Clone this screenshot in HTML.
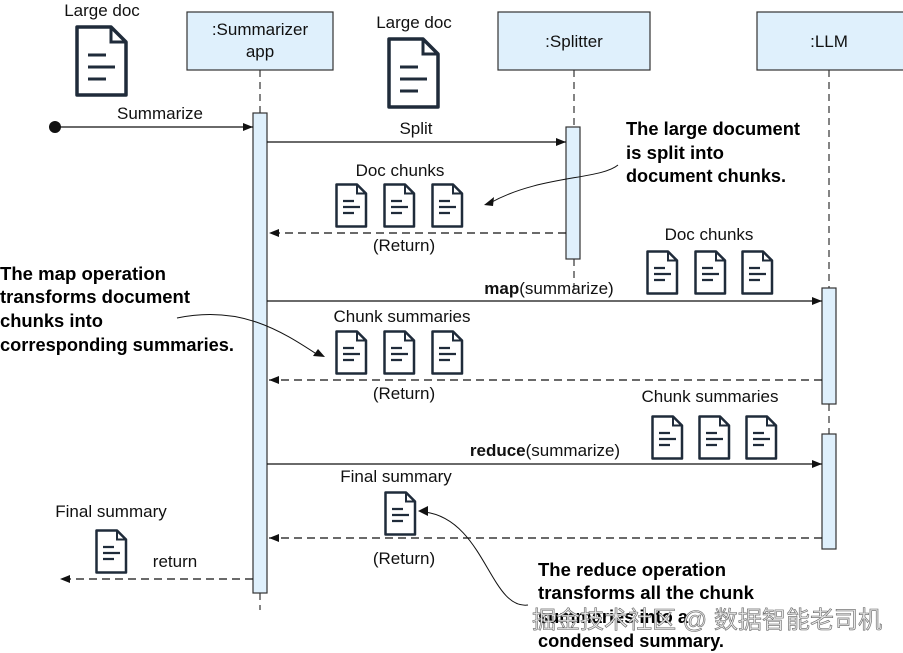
<!DOCTYPE html>
<html><head><style>
body{margin:0;background:#fff}
svg{display:block}
text{font-family:"Liberation Sans",sans-serif;font-size:17px;fill:#111}
.b{font-weight:bold;font-size:18px;fill:#000}
</style></head><body>
<svg width="903" height="653" viewBox="0 0 903 653" xmlns="http://www.w3.org/2000/svg">
<defs>
<marker id="a" markerWidth="10" markerHeight="8" refX="10" refY="4" orient="auto" markerUnits="userSpaceOnUse"><path d="M0,0 L10,4 L0,8 z" fill="#111"/></marker>
<g id="d"><path d="M1.5,1.5 H22 L31,10.5 V43.5 H1.5 Z" fill="#fff" stroke="#1f2b3a" stroke-width="2.5" stroke-linejoin="round"/><path d="M22,1.5 V10.5 H31" fill="none" stroke="#1f2b3a" stroke-width="2"/><path d="M8,18 H19 M8,24 H25 M8,30 H19" stroke="#1f2b3a" stroke-width="2.2"/></g>
<g id="D"><path d="M2,2 H36 L51,17 V70 H2 Z" fill="#fff" stroke="#1f2b3a" stroke-width="3.5" stroke-linejoin="round"/><path d="M36,2 V17 H51" fill="none" stroke="#1f2b3a" stroke-width="3"/><path d="M13,30 H31 M13,42 H40 M13,54 H31" stroke="#1f2b3a" stroke-width="3"/></g>
</defs>
<rect x="187" y="12" width="146" height="58" fill="#dff0fc" stroke="#333" stroke-width="1.2"/>
<text x="260" y="35" text-anchor="middle">:Summarizer</text><text x="260" y="57" text-anchor="middle">app</text>
<rect x="498" y="12" width="152" height="58" fill="#dff0fc" stroke="#333" stroke-width="1.2"/>
<text x="574" y="47" text-anchor="middle">:Splitter</text>
<rect x="757" y="12" width="150" height="58" fill="#dff0fc" stroke="#333" stroke-width="1.2"/>
<text x="829" y="47" text-anchor="middle">:LLM</text>
<g stroke="#333" stroke-dasharray="7,5" stroke-width="1.2">
<path d="M260,70 V113 M260,593 V610"/><path d="M574,70 V127 M574,259 V290"/><path d="M829,70 V288 M829,404 V434"/>
</g>
<rect x="253" y="113" width="14" height="480" fill="#dff0fc" stroke="#333" stroke-width="1.2"/>
<rect x="566" y="127" width="14" height="132" fill="#dff0fc" stroke="#333" stroke-width="1.2"/>
<rect x="822" y="288" width="14" height="116" fill="#dff0fc" stroke="#333" stroke-width="1.2"/>
<rect x="822" y="434" width="14" height="115" fill="#dff0fc" stroke="#333" stroke-width="1.2"/>
<use href="#D" x="75" y="25"/><use href="#D" x="387" y="37"/>
<text x="102" y="16" text-anchor="middle">Large doc</text>
<text x="414" y="28" text-anchor="middle">Large doc</text>
<g stroke="#111" stroke-width="1.3" fill="none">
<path d="M55,127 H253" marker-end="url(#a)"/>
<path d="M267,142 H566" marker-end="url(#a)"/>
<path d="M566,233 H269" stroke-dasharray="8,5" marker-end="url(#a)"/>
<path d="M267,301 H822" marker-end="url(#a)"/>
<path d="M822,380 H269" stroke-dasharray="8,5" marker-end="url(#a)"/>
<path d="M267,464 H822" marker-end="url(#a)"/>
<path d="M822,538 H269" stroke-dasharray="8,5" marker-end="url(#a)"/>
<path d="M253,579 H60" stroke-dasharray="8,5" marker-end="url(#a)"/>
</g>
<circle cx="55" cy="127" r="6" fill="#111"/>
<text x="160" y="119" text-anchor="middle">Summarize</text>
<text x="416" y="134" text-anchor="middle">Split</text>
<text x="404" y="251" text-anchor="middle">(Return)</text>
<text x="549" y="294" text-anchor="middle"><tspan font-weight="bold">map</tspan>(summarize)</text>
<text x="404" y="399" text-anchor="middle">(Return)</text>
<text x="545" y="456" text-anchor="middle"><tspan font-weight="bold">reduce</tspan>(summarize)</text>
<text x="404" y="564" text-anchor="middle">(Return)</text>
<text x="175" y="567" text-anchor="middle">return</text>
<text x="400" y="176" text-anchor="middle">Doc chunks</text>
<use href="#d" x="335" y="183"/><use href="#d" x="383" y="183"/><use href="#d" x="431" y="183"/>
<text x="709" y="240" text-anchor="middle">Doc chunks</text>
<use href="#d" x="646" y="250"/><use href="#d" x="694" y="250"/><use href="#d" x="741" y="250"/>
<text x="402" y="322" text-anchor="middle">Chunk summaries</text>
<use href="#d" x="335" y="330"/><use href="#d" x="383" y="330"/><use href="#d" x="431" y="330"/>
<text x="710" y="402" text-anchor="middle">Chunk summaries</text>
<use href="#d" x="651" y="415"/><use href="#d" x="698" y="415"/><use href="#d" x="745" y="415"/>
<text x="396" y="482" text-anchor="middle">Final summary</text>
<use href="#d" x="384" y="491"/>
<text x="111" y="517" text-anchor="middle">Final summary</text>
<use href="#d" x="95" y="529"/>
<g fill="none" stroke="#111" stroke-width="1">
<path d="M618,165 C600,180 540,175 490,203"/>
<path d="M177,318 C240,305 280,330 318,355"/>
<path d="M528,605 C490,610 485,520 425,512"/>
</g>
<path d="M484,205 L494,197 L493,206 Z" fill="#111"/>
<path d="M325,357 L313,356 L318,349 Z" fill="#111"/>
<path d="M418,511 L428,506 L428,516 Z" fill="#111"/>
<text class="b" x="626" y="135" textLength="174" lengthAdjust="spacingAndGlyphs">The large document</text>
<text class="b" x="626" y="159" textLength="98" lengthAdjust="spacingAndGlyphs">is split into</text>
<text class="b" x="626" y="182" textLength="160" lengthAdjust="spacingAndGlyphs">document chunks.</text>
<text class="b" x="0" y="280" textLength="166" lengthAdjust="spacingAndGlyphs">The map operation</text>
<text class="b" x="0" y="303" textLength="190" lengthAdjust="spacingAndGlyphs">transforms document</text>
<text class="b" x="0" y="327" textLength="103" lengthAdjust="spacingAndGlyphs">chunks into</text>
<text class="b" x="0" y="351" textLength="234" lengthAdjust="spacingAndGlyphs">corresponding summaries.</text>
<text class="b" x="538" y="576" textLength="188" lengthAdjust="spacingAndGlyphs">The reduce operation</text>
<text class="b" x="538" y="599" textLength="216" lengthAdjust="spacingAndGlyphs">transforms all the chunk</text>
<text class="b" x="538" y="623" textLength="150" lengthAdjust="spacingAndGlyphs">summaries into a</text>
<text class="b" x="538" y="647" textLength="186" lengthAdjust="spacingAndGlyphs">condensed summary.</text>
<text x="532" y="628" style="font-family:'Liberation Sans','Noto Sans CJK SC',sans-serif;font-size:24px;fill:#e8e8e8;stroke:#666;stroke-width:0.6" textLength="350">掘金技术社区 @ 数据智能老司机</text>
</svg>
</body></html>
